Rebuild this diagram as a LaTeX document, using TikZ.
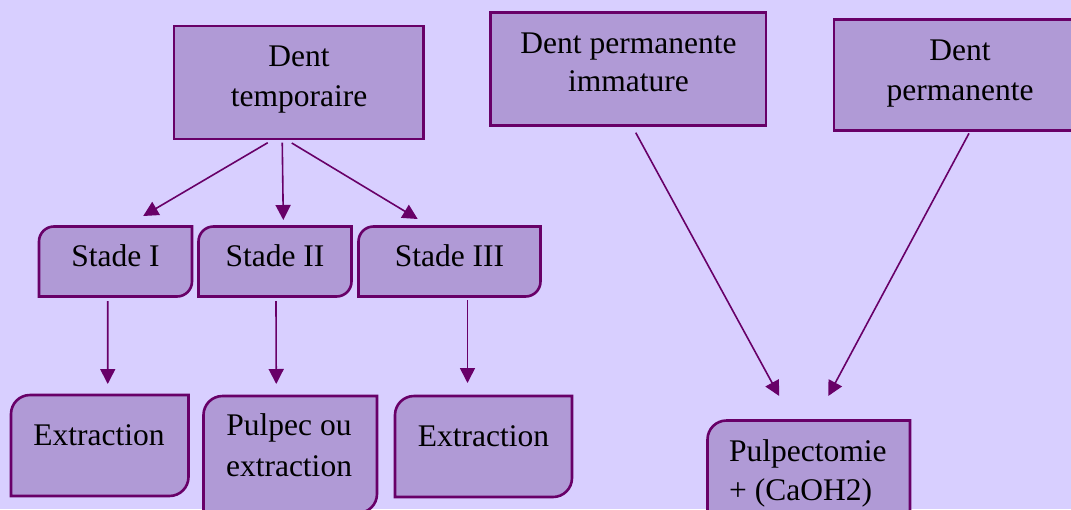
\documentclass[tikz,border=0pt]{standalone}
\usepackage{fontspec}
\setmainfont{Liberation Serif}
\usetikzlibrary{arrows.meta,calc,fit}

\definecolor{bgpurple}{HTML}{D8CFFF}
\definecolor{boxpurple}{HTML}{B09AD6}
\definecolor{edgepurple}{HTML}{680068}

\tikzset{
  boxshape/.style={fill=boxpurple, draw=edgepurple, line width=2.6pt},
  boxarea/.style={inner sep=0pt, outer sep=0pt},
  lbl/.style={font=\fontsize{31.5}{40}\selectfont, align=center, inner sep=0pt, anchor=base},
  link/.style={draw=edgepurple, line width=1.6pt, -{Triangle[length=15pt,width=15pt]}},
}

% #1 name, (#2,#3) top-left, (#4,#5) bottom-right, #6 radius of the
% rounded top-left and bottom-right corners (0 gives a plain rectangle)
\newcommand\cornerbox[6]{%
  \path[boxshape] (#2+#6,#3) -- (#4,#3) -- (#4,#5-#6)
    .. controls (#4,#5-0.448*#6) and (#4-0.448*#6,#5) .. (#4-#6,#5)
    -- (#2,#5) -- (#2,#3+#6)
    .. controls (#2,#3+0.448*#6) and (#2+0.448*#6,#3) .. (#2+#6,#3) -- cycle;
  \node[boxarea, fit={(#2,#3) (#4,#5)}] (#1) {};
}

\begin{document}
\begin{tikzpicture}[x=1pt, y=-1pt]
  \fill[bgpurple] (0,0) rectangle (1071,509);
  \useasboundingbox (0,0) rectangle (1071,509);
  \clip (0,0) rectangle (1071,509);

  % top row
  \cornerbox{dt}{174}{26}{423.5}{139}{0}
  \cornerbox{dpi}{490.5}{12.5}{766}{125.5}{0}
  \cornerbox{dp}{834}{19.5}{1090}{130.5}{0}

  % stages
  \cornerbox{s1}{39}{226.5}{192}{296.5}{15}
  \cornerbox{s2}{198.5}{226.5}{351.5}{296.5}{15}
  \cornerbox{s3}{358.5}{226.5}{540.5}{296.5}{15}

  % treatments
  \cornerbox{t1}{11}{395}{188.5}{496}{19}
  \cornerbox{t2}{203.5}{396}{377}{513}{19}
  \cornerbox{t3}{395}{396}{572}{497}{19}
  \cornerbox{t4}{707.5}{420.5}{910}{530}{19}

  % labels (base anchor sits on the last line)
  \node[lbl] at (299,106.7) {Dent\\temporaire};
  \node[lbl, font=\fontsize{31.5}{38.5}\selectfont] at (628.5,91.7) {Dent permanente\\immature};
  \node[lbl] at (960,100) {Dent\\permanente};
  \node[lbl] at (115.5,266.5) {Stade I};
  \node[lbl] at (275,266.7) {Stade II};
  \node[lbl] at (449.5,266.7) {Stade III};
  \node[lbl] at (99,445) {Extraction};
  \node[lbl, font=\fontsize{31.5}{41.5}\selectfont] at (289,476.7) {Pulpec ou\\extraction};
  \node[lbl] at (483.5,446.7) {Extraction};
  \node[lbl, anchor=base west, align=left, font=\fontsize{31.5}{38.5}\selectfont] at (729,500) {Pulpectomie\\+ (CaOH2)};

  % connectors
  \draw[link] ($(dt.south)+(-31,3.7)$) -- ($(s1.north)+(27.7,-10.5)$);
  \draw[link] ($(dt.south)+(-16.5,3.7)$) -- ($(s2.north)+(8.3,-6.5)$);
  \draw[link] ($(dt.south)+(-7,4)$) -- ($(s3.north)+(-31.8,-7.5)$);

  \draw[link] ($(s1.south)+(-7.8,4.5)$) -- ($(t1.north)+(8,-11)$);
  \draw[link] ($(s2.south)+(1,4.5)$) -- ($(t2.north)+(-14,-12)$);
  \draw[link] ($(s3.south)+(18,3.5)$) -- ($(t3.north)+(-16,-13)$);

  \draw[link] ($(dpi.south)+(7.5,7.2)$) -- ($(t4.north)+(-29.5,-24.5)$);
  \draw[link] ($(dp.south)+(7,2.8)$) -- ($(t4.north)+(19.5,-24.5)$);
\end{tikzpicture}
\end{document}
